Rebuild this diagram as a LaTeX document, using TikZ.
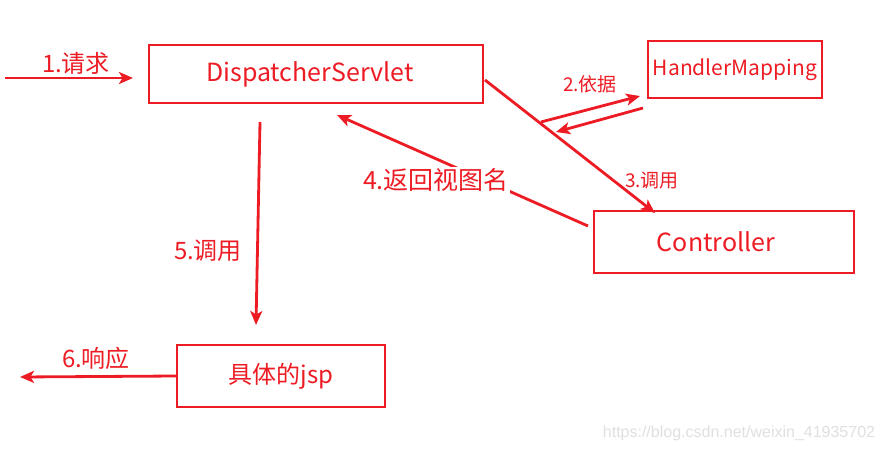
\documentclass[tikz,border=0pt]{standalone}
\usepackage{fontspec}
\setmainfont{Noto Sans CJK SC}
\newfontfamily\wmfont{Liberation Sans}
\usetikzlibrary{arrows.meta}
\definecolor{rd}{RGB}{237,28,36}
\tikzset{
  box/.style={draw=rd, line width=2pt, text=rd, inner sep=0pt},
  conn/.style={draw=rd, line width=2.8pt, -{Stealth[length=14pt,width=12pt,inset=3.5pt]}},
  lbl/.style={text=rd, inner sep=1pt},
}
\begin{document}
\begin{tikzpicture}[x=1pt,y=-1pt]
\useasboundingbox[fill=white] (0,0) rectangle (884,453);
% boxes
\node[box, minimum width=334pt, minimum height=58pt, font=\fontsize{25}{29}\selectfont] (ds) at (316,74) {DispatcherServlet\hspace*{12pt}};
\node[box, minimum width=174pt, minimum height=57pt, font=\fontsize{21}{25}\selectfont] (hm) at (735,69.5) {HandlerMapping};
\node[box, minimum width=260pt, minimum height=62pt, font=\fontsize{25}{29}\selectfont] (ct) at (724,242) {Controller\hspace*{16pt}};
\node[box, minimum width=208pt, minimum height=62pt, font=\fontsize{24}{28}\selectfont] (jsp) at (281,376) {具体的jsp};
% coordinates
\coordinate (in) at (5,78);
\coordinate (inend) at (133,78);
\coordinate (a2s) at (541,122);
\coordinate (a2e) at (640,96);
\coordinate (b2s) at (643,108);
\coordinate (b2e) at (556,132);
\coordinate (a3s) at (485,80);
\coordinate (a3e) at (655,213);
\coordinate (a4s) at (588,226);
\coordinate (a4e) at (337,115);
\coordinate (a5s) at (260,122);
\coordinate (a5e) at (256,325);
\coordinate (out) at (20,377);
% connectors
\draw[conn] (in) -- (inend);
\draw[conn] (a2s) -- (a2e);
\draw[conn] (b2s) -- (b2e);
\draw[conn] (a3s) -- (a3e);
\draw[conn] (a4s) -- (a4e);
\draw[conn] (a5s) -- (a5e);
\draw[conn] (jsp.west) -- (out);
% labels
\node[lbl, font=\fontsize{24}{28}\selectfont] (l1) at (76,63) {1.请求};
\node[lbl, font=\fontsize{19}{23}\selectfont] (l2) at (590,84) {2.依据};
\node[lbl, font=\fontsize{19}{23}\selectfont] (l3) at (652,181) {3.调用};
\node[lbl, fill=white, font=\fontsize{25}{29}\selectfont] (l4) at (436,180) {4.返回视图名};
\node[lbl, font=\fontsize{24}{28}\selectfont] (l5) at (208,251) {5.调用};
\node[lbl, font=\fontsize{24}{28}\selectfont] (l6) at (96,358) {6.响应};
\node[text=black!12, inner sep=0pt, font=\wmfont\fontsize{16}{19}\selectfont] (wm) at (739,433) {https://blog.csdn.net/weixin\_41935702};
\end{tikzpicture}
\end{document}
